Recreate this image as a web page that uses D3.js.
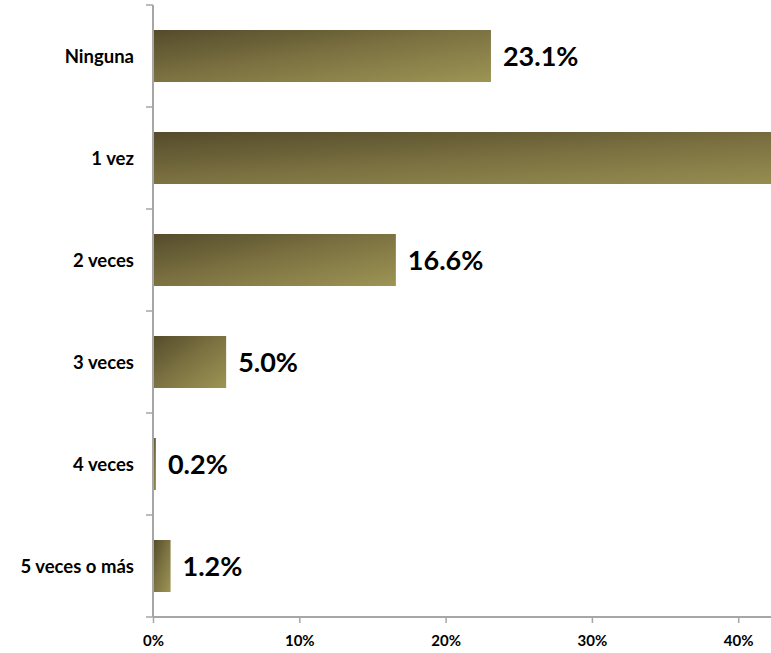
<!DOCTYPE html>
<html>
<head>
<meta charset="utf-8">
<script src="https://cdn.jsdelivr.net/npm/d3@7"></script>
<style>
  html, body { margin: 0; padding: 0; background: #fff; overflow: hidden; }
  svg { display: block; }
  text { font-family: Lato, "Open Sans", sans-serif; font-weight: bold; fill: #000; }
</style>
</head>
<body>
<svg id="chart" width="771" height="653"></svg>
<script>
const categories = ["Ninguna", "1 vez", "2 veces", "3 veces", "4 veces", "5 veces o más"];
const values = [23.1, 53.9, 16.6, 5.0, 0.2, 1.2];
const valueLabels = ["23.1%", "53.9%", "16.6%", "5.0%", "0.2%", "1.2%"];
const xTicks = [0, 10, 20, 30, 40];

(function () {
const W = 771;
const svg = d3.select("#chart");
const mLeft = 153, mTop = 5, mBottom = 617;

const x = d3.scaleLinear().domain([0, 60]).range([mLeft, mLeft + 6 * 146.3]);
const y = d3.scaleBand().domain(categories).range([mTop, mBottom]).paddingInner(0.49).paddingOuter(0.245);

const defs = svg.append("defs");
const grad = defs.append("linearGradient").attr("id", "barGrad")
  .attr("x1", 0).attr("y1", 0).attr("x2", 1).attr("y2", 1);
grad.append("stop").attr("offset", "0%").attr("stop-color", "#554b2b");
grad.append("stop").attr("offset", "50%").attr("stop-color", "#7d7342");
grad.append("stop").attr("offset", "100%").attr("stop-color", "#9d9455");

// bars
svg.append("g").selectAll("rect").data(categories).join("rect")
  .attr("x", x(0))
  .attr("y", d => y(d))
  .attr("width", (d, i) => x(values[i]) - x(0))
  .attr("height", y.bandwidth())
  .attr("fill", "url(#barGrad)");

// value labels (only those that fall inside the visible plot, as in the reference)
const visibleIdx = categories.map((c, i) => i).filter(i => x(values[i]) + 12 < W - 60);
svg.append("g").selectAll("text").data(visibleIdx).join("text")
  .attr("x", i => x(values[i]) + 12)
  .attr("y", i => y(categories[i]) + y.bandwidth() / 2 + 10)
  .attr("font-size", 27)
  .text(i => valueLabels[i]);

// y axis
const yBand = d3.scaleBand().domain(categories).range([mTop, mBottom]);
const yAxisG = svg.append("g").attr("transform", `translate(${mLeft},0)`);
yAxisG.append("line").attr("x1", 0).attr("x2", 0).attr("y1", mTop).attr("y2", mBottom)
  .attr("stroke", "#a6a6a6").attr("stroke-width", 2);
const yTickPos = categories.map(c => yBand(c)).concat([mBottom]);
yAxisG.selectAll("line.tick").data(yTickPos).join("line").attr("class", "tick")
  .attr("x1", -7).attr("x2", 0).attr("y1", d => d).attr("y2", d => d)
  .attr("stroke", "#a6a6a6").attr("stroke-width", 1.5);
yAxisG.selectAll("text").data(categories).join("text")
  .attr("x", -19)
  .attr("y", d => yBand(d) + yBand.bandwidth() / 2 + 6.5)
  .attr("text-anchor", "end")
  .attr("font-size", 18.5)
  .text(d => d);

// x axis
const xAxis = d3.axisBottom(x).tickValues(xTicks).tickFormat(d => d + "%").tickSize(6).tickPadding(12);
const xg = svg.append("g").attr("transform", `translate(0,${mBottom})`).call(xAxis);
xg.select(".domain").attr("stroke", "#a6a6a6").attr("stroke-width", 2)
  .attr("d", `M${mLeft},0H${x(60)}`);
xg.selectAll(".tick line").attr("stroke", "#a6a6a6").attr("stroke-width", 1.5);
xg.selectAll(".tick text").attr("font-size", 15).attr("font-family", "Lato, sans-serif")
  .attr("font-weight", "bold").attr("fill", "#000");
})();
</script>
</body>
</html>
